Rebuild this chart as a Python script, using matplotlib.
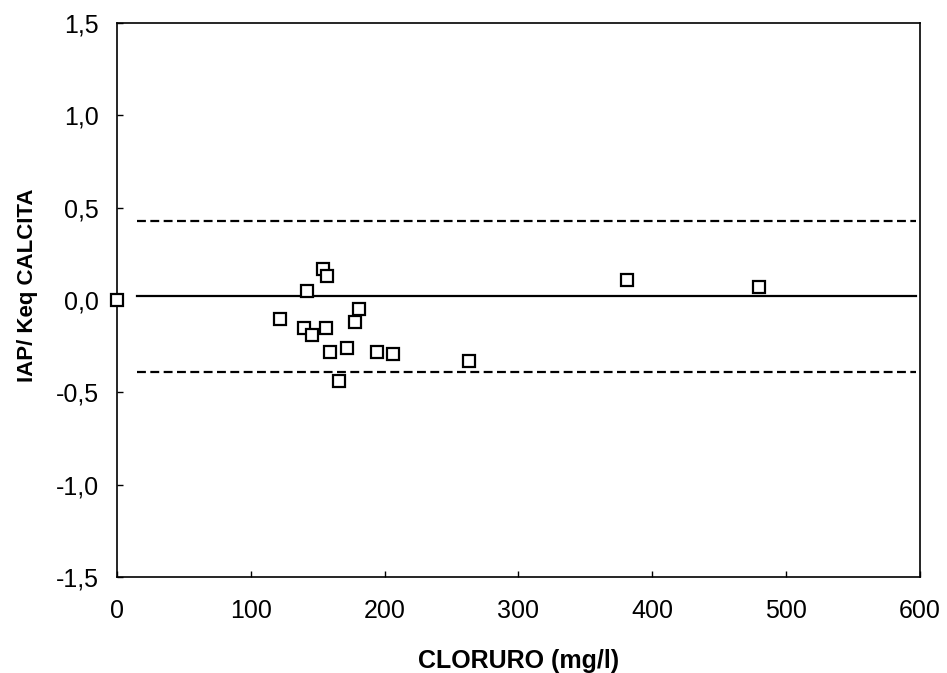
import matplotlib
matplotlib.use("Agg")
import matplotlib.pyplot as plt
from matplotlib.ticker import FixedLocator, FixedFormatter

# Data
cloruro = [0, 122, 142, 154, 157, 140, 146, 156, 181, 178, 159, 172, 194, 206, 263, 166, 381, 480]
iap_keq = [0.00, -0.10, 0.05, 0.17, 0.13, -0.15, -0.19, -0.15, -0.05, -0.12,
           -0.28, -0.26, -0.28, -0.29, -0.33, -0.44, 0.11, 0.07]

line_x = [15, 597]
mean_val = 0.02
upper_val = 0.43
lower_val = -0.39

x_ticks = [0, 100, 200, 300, 400, 500, 600]
y_ticks = [-1.5, -1.0, -0.5, 0.0, 0.5, 1.0, 1.5]
y_labels = ["-1,5", "-1,0", "-0,5", "0,0", "0,5", "1,0", "1,5"]

plt.rcParams['font.family'] = ['Liberation Sans', 'DejaVu Sans']

fig = plt.figure(figsize=(9.47, 6.73), dpi=100)
ax = fig.add_axes([0.1235, 0.1426, 0.848, 0.823])

ax.plot(line_x, [mean_val, mean_val], color="black", lw=1.6)
ax.plot(line_x, [upper_val, upper_val], color="black", lw=1.6, ls=(0, (4, 2)))
ax.plot(line_x, [lower_val, lower_val], color="black", lw=1.6, ls=(0, (4, 2)))

ax.plot(cloruro, iap_keq, ls="none", marker="s", markersize=8.5,
        markerfacecolor="white", markeredgecolor="black", markeredgewidth=1.6,
        clip_on=False, zorder=5)

ax.set_xlim(0, 600)
ax.set_ylim(-1.5, 1.5)
ax.xaxis.set_major_locator(FixedLocator(x_ticks))
ax.yaxis.set_major_locator(FixedLocator(y_ticks))
ax.yaxis.set_major_formatter(FixedFormatter(y_labels))
ax.tick_params(direction="in", length=4, width=1, labelsize=18)
ax.tick_params(axis="x", pad=16)
ax.tick_params(axis="y", pad=13)

for s in ax.spines.values():
    s.set_linewidth(1.2)

ax.set_xlabel("CLORURO (mg/l)", fontsize=18, fontweight="bold")
ax.set_ylabel("IAP/ Keq CALCITA", fontsize=16, fontweight="bold")
ax.xaxis.set_label_coords(0.5, -0.13)
ax.yaxis.set_label_coords(-0.098, 0.527)

fig.savefig("out.png", dpi=100)
